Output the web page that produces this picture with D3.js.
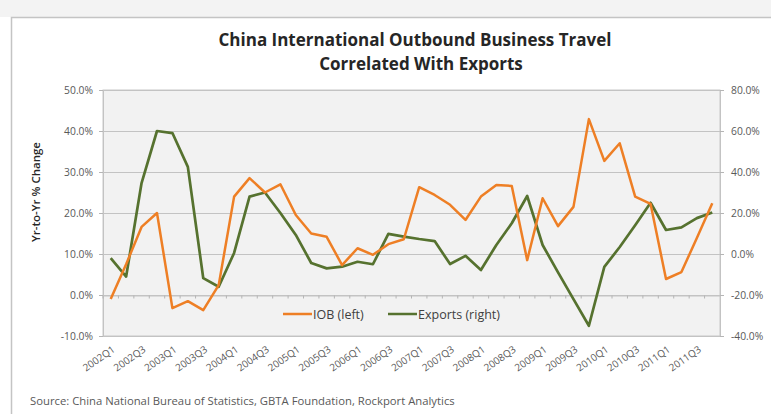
<!DOCTYPE html>
<html>
<head>
<meta charset="utf-8">
<script src="https://cdn.jsdelivr.net/npm/d3@7"></script>
<style>
body{margin:0;background:#fff;}
text{font-family:"Open Sans",sans-serif;}
</style>
</head>
<body>
<svg id="graph"></svg>
<script>
var quarters=["2002Q1","2002Q2","2002Q3","2002Q4","2003Q1","2003Q2","2003Q3","2003Q4",
  "2004Q1","2004Q2","2004Q3","2004Q4","2005Q1","2005Q2","2005Q3","2005Q4",
  "2006Q1","2006Q2","2006Q3","2006Q4","2007Q1","2007Q2","2007Q3","2007Q4",
  "2008Q1","2008Q2","2008Q3","2008Q4","2009Q1","2009Q2","2009Q3","2009Q4",
  "2010Q1","2010Q2","2010Q3","2010Q4","2011Q1","2011Q2","2011Q3","2011Q4"]
var iob=[-1.0,7.5,16.6,20.0,-3.2,-1.5,-3.7,2.4,24.0,28.5,25.0,27.0,19.5,15.0,14.2,7.3,
  11.4,9.8,12.4,13.6,26.3,24.4,22.0,18.3,24.0,26.8,26.6,8.5,23.6,16.8,21.5,42.9,
  32.7,37.0,24.0,22.2,3.9,5.6,13.9,22.4]
var exportsYoY=[-2.0,-11.0,34.6,60.0,59.0,42.5,-11.8,-16.0,0.5,28.0,30.0,20.0,9.3,-4.4,-7.0,-6.2,
  -3.8,-5.0,9.8,8.5,7.3,6.3,-4.9,-0.9,-7.8,4.4,15.0,28.3,4.4,-9.0,-22.0,-35.0,
  -6.3,3.4,14.0,25.0,11.7,13.0,17.5,20.2]
var leftTicks=[-10,0,10,20,30,40,50]
var rightTicks=[-40,-20,0,20,40,60,80]
var seriesNames=["IOB (left)","Exports (right)"]

var screen={width:771,height:414}
var plot={left:103,right:720,top:90,bottom:336}
var orange="#ee7f25", green="#56722f"

var svg=d3.select("#graph")
    .attr("width",screen.width)
    .attr("height",screen.height)

// frame like the pasted excel chart
svg.append("rect").attr("x",0).attr("y",0).attr("width",screen.width).attr("height",17).attr("fill","#f3f3f3")
svg.append("rect").attr("x",11.5).attr("y",17.5).attr("width",screen.width).attr("height",screen.height)
    .attr("fill","#fff").attr("stroke","#c4c4c4").attr("stroke-width",1.5)

var xScale=d3.scaleBand().domain(quarters).range([plot.left,plot.right])
var yLeft=d3.scaleLinear().domain([-10,50]).range([plot.bottom,plot.top])
var yRight=d3.scaleLinear().domain([-40,80]).range([plot.bottom,plot.top])
var cx=function(d,i){return xScale(quarters[i])+xScale.bandwidth()/2}

svg.append("rect")
    .attr("x",plot.left).attr("y",plot.top)
    .attr("width",plot.right-plot.left).attr("height",plot.bottom-plot.top)
    .attr("fill","#f2f2f2").attr("stroke","#c9c9c9")

// gridlines
svg.append("g").selectAll("line").data(leftTicks).enter().append("line")
    .attr("x1",plot.left).attr("x2",plot.right)
    .attr("y1",function(d){return Math.round(yLeft(d))+0.5})
    .attr("y2",function(d){return Math.round(yLeft(d))+0.5})
    .attr("stroke","#c3c3c3").attr("stroke-width",1)

// left axis
var yAxisL=d3.axisLeft(yLeft).tickValues(leftTicks).tickSize(4).tickPadding(6)
    .tickFormat(function(d){return d.toFixed(1)+"%"})
svg.append("g").attr("class","axis").attr("transform","translate("+plot.left+",0)").call(yAxisL)

// right axis
var yAxisR=d3.axisRight(yRight).tickValues(rightTicks).tickSize(4).tickPadding(7)
    .tickFormat(function(d){return d.toFixed(1)+"%"})
svg.append("g").attr("class","axis").attr("transform","translate("+plot.right+",0)").call(yAxisR)

// category axis crossing at 0%
var xAxis=d3.axisBottom(xScale).tickSize(3).tickFormat("")
var xg=svg.append("g").attr("class","axis").attr("transform","translate(0,"+(Math.round(yLeft(0))+0.5)+")").call(xAxis)
xg.selectAll(".tick line").attr("transform","translate("+(-xScale.bandwidth()/2)+",0)")

// category labels, low position
var labelAxis=d3.axisBottom(xScale)
    .tickValues(quarters.filter(function(q,i){return i%2==0}))
    .tickSize(0).tickPadding(0)
var lg=svg.append("g").attr("class","axis xlab").attr("transform","translate(0,"+(plot.bottom+7)+")").call(labelAxis)
lg.select(".domain").remove()
lg.selectAll(".tick text")
    .attr("text-anchor","end")
    .attr("dy","0")
    .attr("transform","translate(5,8) rotate(-35)")

svg.selectAll(".axis .domain").attr("stroke","#c3c3c3")
svg.selectAll(".axis .tick line").attr("stroke","#b5b5b5")
svg.selectAll(".axis text").attr("fill","#595959").style("font-size","10.3px")
lg.selectAll("text").style("font-size","10px")

// lines
var lineIOB=d3.line().x(cx).y(function(d){return yLeft(d)})
var lineExp=d3.line().x(cx).y(function(d){return yRight(d)})

svg.append("path").datum(exportsYoY).attr("d",lineExp)
    .attr("fill","none").attr("stroke",green).attr("stroke-width",2.7).attr("stroke-linejoin","round")
svg.append("path").datum(iob).attr("d",lineIOB)
    .attr("fill","none").attr("stroke",orange).attr("stroke-width",2.5).attr("stroke-linejoin","round")

// legend
var legend=svg.append("g").attr("transform","translate(283,314)")
var legX=[0,105]
var legC=[orange,green]
seriesNames.forEach(function(name,i){
    legend.append("line").attr("x1",legX[i]).attr("x2",legX[i]+29).attr("y1",0).attr("y2",0)
        .attr("stroke",legC[i]).attr("stroke-width",2.5)
    legend.append("text").attr("x",legX[i]+30).attr("y",4.5).text(name)
        .style("font-size","12.5px").attr("fill","#404040")
})

// titles
var title=svg.append("text").attr("text-anchor","middle").attr("fill","#262626")
    .style("font-size","17px").style("font-weight","bold")
title.append("tspan").attr("x",415).attr("y",46).text("China International Outbound Business Travel")
title.append("tspan").attr("x",421).attr("y",70).text("Correlated With Exports")

svg.append("text")
    .attr("transform","translate(40,192) rotate(-90)")
    .attr("text-anchor","middle").attr("fill","#262626")
    .style("font-size","11.5px").style("font-weight","600")
    .text("Yr-to-Yr % Change")

svg.append("text").attr("x",30).attr("y",405).attr("fill","#595959")
    .style("font-size","11.3px")
    .text("Source: China National Bureau of Statistics, GBTA Foundation, Rockport Analytics")
</script>
</body>
</html>
